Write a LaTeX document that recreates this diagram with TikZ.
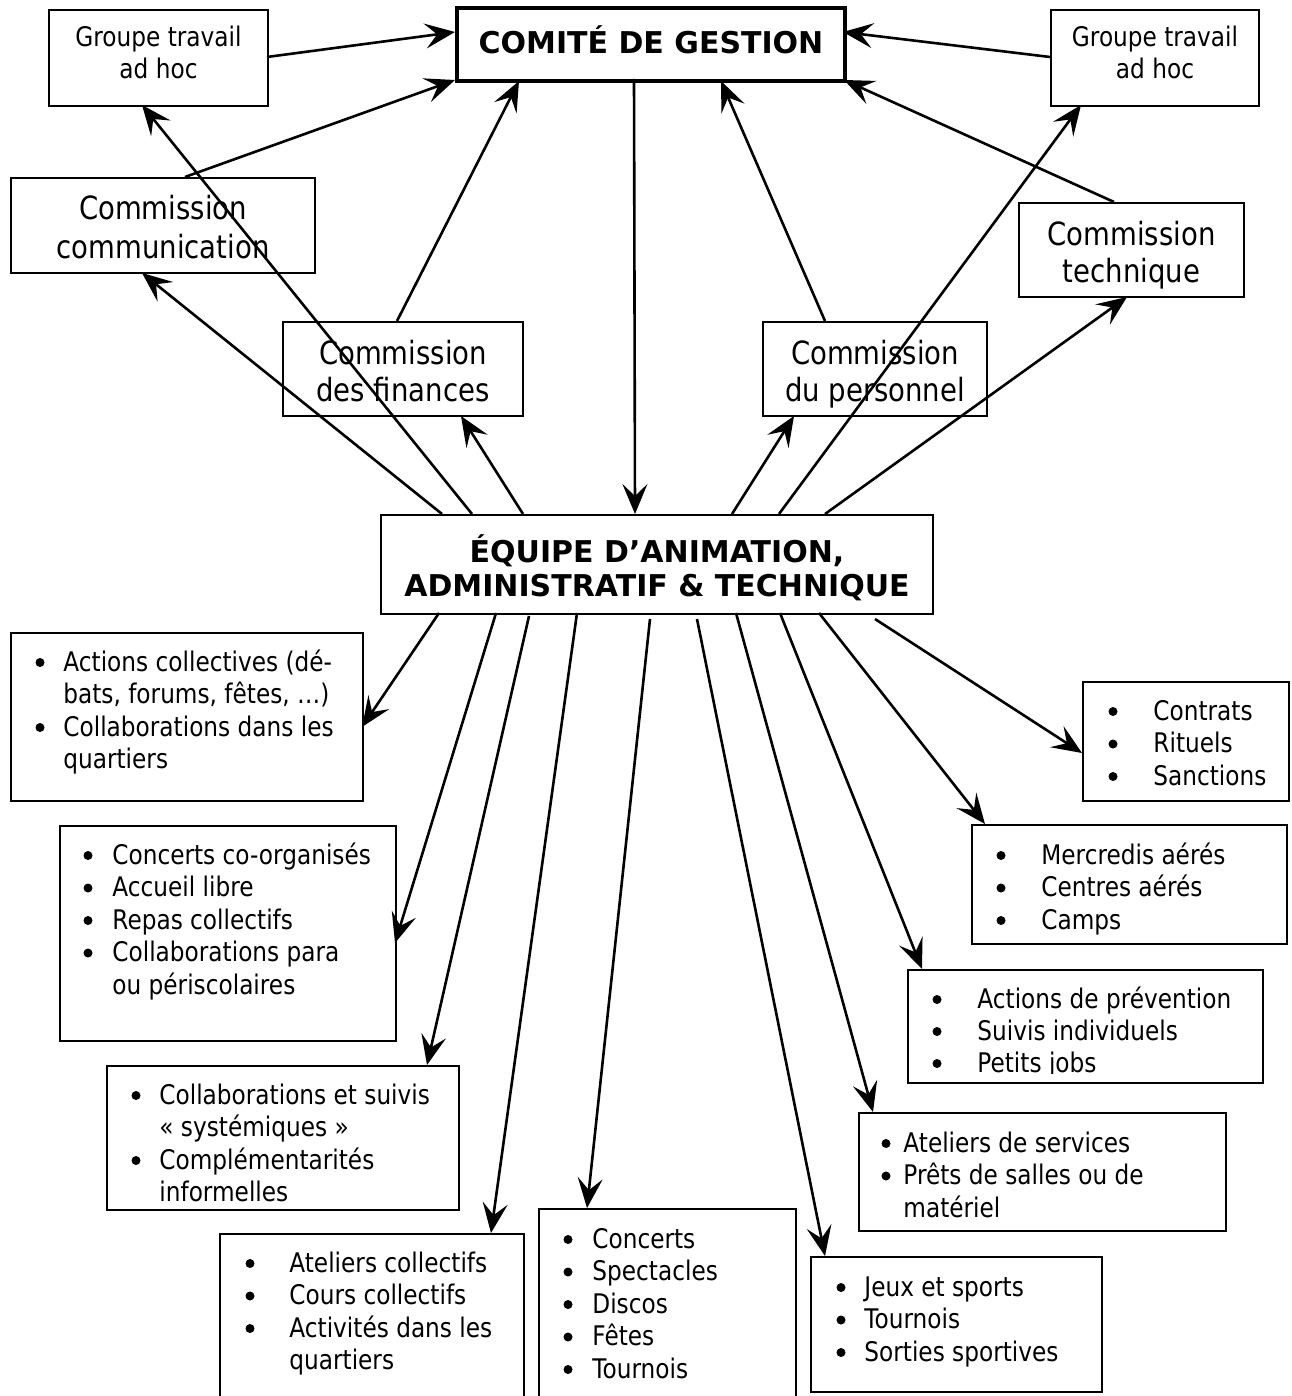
\documentclass[tikz,border=0pt]{standalone}
\usepackage{fontspec}
\setmainfont{DejaVu Sans}[FakeStretch=0.86]
\newfontfamily\titlefont{DejaVu Sans}
\usetikzlibrary{arrows.meta,calc,fit}
\newcommand\myconn[4]{\draw[arr] ($(#1.north west)+(#2)$) -- ($(#3.north west)+(#4)$);}
\newcommand\mybul[2]{\fill (#1,#2-8.5) circle (2.25pt);}
\begin{document}
\begin{tikzpicture}[x=0.5pt,y=-0.5pt,
  box/.style={draw,line width=1pt,inner sep=0pt,rectangle},
  thickbox/.style={draw,line width=2pt,inner sep=0pt,rectangle},
  arr/.style={line width=1.3pt,-{Stealth[length=15pt,width=12.5pt,inset=6pt]}},
  body/.style={inner sep=0pt,anchor=base west,font=\fontsize{13.5}{16}\selectfont},
  ctr/.style={inner sep=0pt,anchor=base,font=\fontsize{13.5}{16}\selectfont},
  comtxt/.style={inner sep=0pt,anchor=base,font=\fontsize{16}{19}\selectfont},
  ttl/.style={inner sep=0pt,anchor=base,font=\titlefont\bfseries\fontsize{15}{18}\selectfont}]
\useasboundingbox (0,0) rectangle (1291,1396);
\fill[white] (0,0) rectangle (1291,1396);

% ---------- boxes ----------
\node[thickbox,fit={(457,8) (845,81)}] (cmt) {};
\node[box,fit={(49,10) (268,106)}] (gL) {};
\node[box,fit={(1051,10) (1259,106)}] (gR) {};
\node[box,fit={(11,178) (315,273)}] (comm) {};
\node[box,fit={(1019,203) (1244,297)}] (tech) {};
\node[box,fit={(283,322) (523,416)}] (fin) {};
\node[box,fit={(763,322) (987,416)}] (pers) {};
\node[box,fit={(381,515) (933,614)}] (eq) {};
\node[box,fit={(11,633) (363,801)}] (A) {};
\node[box,fit={(1083,682) (1289,801)}] (B) {};
\node[box,fit={(60,826) (396,1041)}] (C) {};
\node[box,fit={(972,825) (1287,944)}] (D) {};
\node[box,fit={(908,970) (1263,1083)}] (E) {};
\node[box,fit={(107,1066) (459,1210)}] (F) {};
\node[box,fit={(859,1113) (1226,1231)}] (G) {};
\node[box,fit={(220,1234) (524,1420)}] (H) {};
\node[box,fit={(539,1209) (796,1420)}] (I) {};
\node[box,fit={(811,1257) (1102,1392)}] (J) {};

% ---------- titles ----------
\node[ttl] (tcmt) at (651,54) {COMITÉ DE GESTION};
\node[ttl] (teq1) at (657,562) {ÉQUIPE D’ANIMATION,};
\node[ttl] (teq2) at (657,596) {ADMINISTRATIF \& TECHNIQUE};
\node[ctr] (tgL1) at (158.5,47) {Groupe travail};
\node[ctr] (tgL2) at (158.5,79) {ad hoc};
\node[ctr] (tgR1) at (1155,47) {Groupe travail};
\node[ctr] (tgR2) at (1155,79) {ad hoc};
\node[comtxt] (tcom1) at (163,220) {Commission};
\node[comtxt] (tcom2) at (163,258) {communication};
\node[comtxt] (ttec1) at (1131.5,245) {Commission};
\node[comtxt] (ttec2) at (1131.5,282) {technique};
\node[comtxt] (tfin1) at (403,364) {Commission};
\node[comtxt] (tfin2) at (403,401) {des finances};
\node[comtxt] (tper1) at (875,364) {Commission};
\node[comtxt] (tper2) at (875,401) {du personnel};

% ---------- lists ----------
% A
\mybul{40}{671}\node[body] (a1) at (63,671) {Actions collectives (dé-};
\node[body] (a2) at (63,703.5) {bats, forums, fêtes, …)};
\mybul{40}{736}\node[body] (a3) at (63,736) {Collaborations dans les};
\node[body] (a4) at (63,768.5) {quartiers};
% B
\mybul{1113}{720}\node[body] (b1) at (1153,720) {Contrats};
\mybul{1113}{752.5}\node[body] (b2) at (1153,752.5) {Rituels};
\mybul{1113}{785}\node[body] (b3) at (1153,785) {Sanctions};
% C
\mybul{88}{864}\node[body] (c1) at (112,864) {Concerts co-organisés};
\mybul{88}{896.5}\node[body] (c2) at (112,896.5) {Accueil libre};
\mybul{88}{929}\node[body] (c3) at (112,929) {Repas collectifs};
\mybul{88}{961.5}\node[body] (c4) at (112,961.5) {Collaborations para};
\node[body] (c5) at (112,994) {ou périscolaires};
% D
\mybul{1001}{864}\node[body] (d1) at (1041,864) {Mercredis aérés};
\mybul{1001}{896.5}\node[body] (d2) at (1041,896.5) {Centres aérés};
\mybul{1001}{929}\node[body] (d3) at (1041,929) {Camps};
% E
\begin{scope}
\clip (908,970) rectangle (1263,1073);
\mybul{937}{1008}\node[body] (e1) at (977,1008) {Actions de prévention};
\mybul{937}{1040}\node[body] (e2) at (977,1040) {Suivis individuels};
\mybul{937}{1072}\node[body] (e3) at (977,1072) {Petits jobs};
\end{scope}
% F
\begin{scope}
\clip (107,1066) rectangle (459,1201);
\mybul{136}{1104}\node[body] (f1) at (159,1104) {Collaborations et suivis};
\node[body] (f2) at (159,1136.5) {«~systémiques~»};
\mybul{136}{1169}\node[body] (f3) at (159,1169) {Complémentarités};
\node[body] (f4) at (159,1201.5) {informelles};
\end{scope}
% G
\mybul{886}{1152}\node[body] (g1) at (903,1152) {Ateliers de services};
\mybul{886}{1184.5}\node[body] (g2) at (903,1184.5) {Prêts de salles ou de};
\node[body] (g3) at (903,1217) {matériel};
% H
\mybul{250}{1272}\node[body] (h1) at (289,1272) {Ateliers collectifs};
\mybul{250}{1304.5}\node[body] (h2) at (289,1304.5) {Cours collectifs};
\mybul{250}{1337}\node[body] (h3) at (289,1337) {Activités dans les};
\node[body] (h4) at (289,1369.5) {quartiers};
% I
\mybul{568}{1248}\node[body] (i1) at (592,1248) {Concerts};
\mybul{568}{1280.5}\node[body] (i2) at (592,1280.5) {Spectacles};
\mybul{568}{1313}\node[body] (i3) at (592,1313) {Discos};
\mybul{568}{1345.5}\node[body] (i4) at (592,1345.5) {Fêtes};
\mybul{568}{1378}\node[body] (i5) at (592,1378) {Tournois};
% J
\mybul{841}{1296}\node[body] (j1) at (864,1296) {Jeux et sports};
\mybul{841}{1328.5}\node[body] (j2) at (864,1328.5) {Tournois};
\mybul{841}{1361}\node[body] (j3) at (864,1361) {Sorties sportives};

% ---------- connectors ----------
\myconn{gL}{219,48}{cmt}{0,26}
\myconn{comm}{175,0}{cmt}{0,74}
\myconn{fin}{115,0}{cmt}{64,75}
\myconn{cmt}{179,73}{eq}{255,0}
\myconn{pers}{63,0}{cmt}{266,75}
\myconn{tech}{96,0}{cmt}{389,74}
\myconn{gR}{0,48}{cmt}{388,26}
\myconn{eq}{62,0}{comm}{132,96}
\myconn{eq}{92,0}{gL}{94,96}
\myconn{eq}{143,0}{fin}{179,95}
\myconn{eq}{352,0}{pers}{32,95}
\myconn{eq}{399,0}{gR}{31,96}
\myconn{eq}{445,0}{tech}{109,95}
\myconn{eq}{59,99}{A}{352,95}
\myconn{eq}{116,99}{C}{336,118}
\myconn{eq}{149,102}{F}{321,0}
\myconn{eq}{197,99}{H}{272,0}
\myconn{eq}{270,105}{I}{49,0}
\myconn{eq}{317,105}{J}{15,0}
\myconn{eq}{356,99}{G}{15,0}
\myconn{eq}{400,99}{E}{15,0}
\myconn{eq}{439,99}{D}{14,0}
\myconn{eq}{495,105}{B}{0,72}
\end{tikzpicture}
\end{document}
